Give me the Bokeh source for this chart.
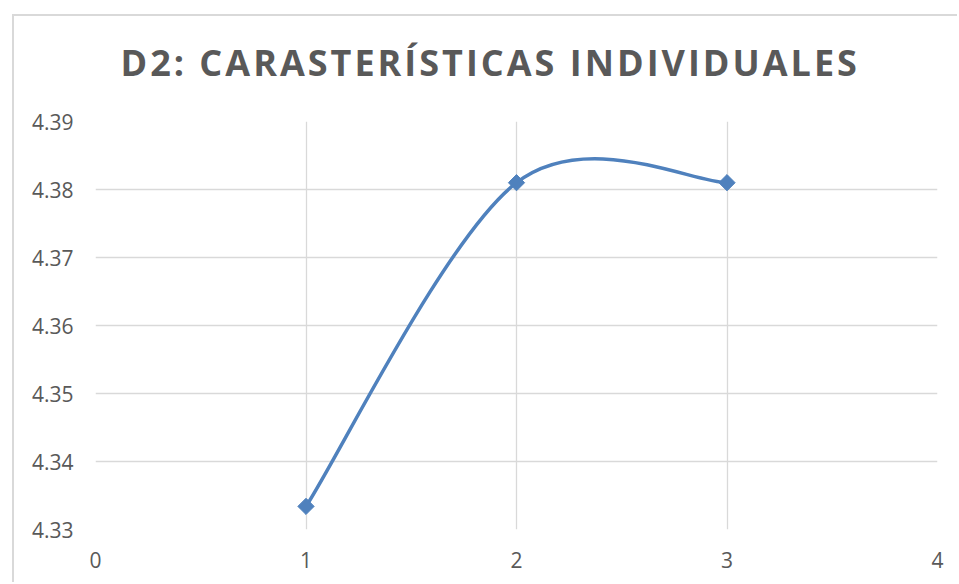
import math
from bokeh.plotting import figure
from bokeh.layouts import column
from bokeh.models import FixedTicker, ColumnDataSource
from bokeh.embed import file_html
from bokeh.resources import INLINE

# ---- data ----
x_vals = [1, 2, 3]
y_vals = [4.3334, 4.381, 4.381]
x_ticks = [0, 1, 2, 3, 4]
y_ticks = [4.33, 4.34, 4.35, 4.36, 4.37, 4.38, 4.39]
y_tick_labels = ["4.33", "4.34", "4.35", "4.36", "4.37", "4.38", "4.39"]
title_text = "D2: CARASTERÍSTICAS INDIVIDUALES"

LINE = "#4f81bd"
GRID = "#d9d9d9"
TEXT = "#595959"

# smoothed (Excel-style) bezier segments derived from the data points
pts = list(zip(x_vals, y_vals))
n = len(pts)
seg = dict(x0=[], y0=[], x1=[], y1=[], cx0=[], cy0=[], cx1=[], cy1=[])
for i in range(n - 1):
    p0 = pts[max(i - 1, 0)]
    p1 = pts[i]
    p2 = pts[i + 1]
    p3 = pts[min(i + 2, n - 1)]
    seg["x0"].append(p1[0]); seg["y0"].append(p1[1])
    seg["x1"].append(p2[0]); seg["y1"].append(p2[1])
    seg["cx0"].append(p1[0] + (p2[0] - p0[0]) / 6)
    seg["cy0"].append(p1[1] + (p2[1] - p0[1]) / 6)
    seg["cx1"].append(p2[0] - (p3[0] - p1[0]) / 6)
    seg["cy1"].append(p2[1] - (p3[1] - p1[1]) / 6)

# ---- title strip (own figure so letter-spacing only affects the title) ----
tfig = figure(width=943, height=73, x_range=(0, 1), y_range=(0, 1),
              output_backend="svg", toolbar_location=None,
              x_axis_type=None, y_axis_type=None,
              min_border_left=81, min_border_right=20, min_border_top=0, min_border_bottom=0)
tfig.styles = {"letter-spacing": "3px", "position": "relative", "top": "19px"}
tfig.outline_line_color = None
tfig.background_fill_alpha = 0
tfig.border_fill_alpha = 0
tfig.grid.visible = False
tfig.title.text = title_text
tfig.title.text_font = "Open Sans"
tfig.title.text_font_size = "36px"
tfig.title.text_font_style = "bold"
tfig.title.text_color = TEXT
tfig.title.align = "left"
tfig.title.offset = 25
tfig.title.standoff = 0

# ---- main chart ----
p = figure(width=943, height=493, x_range=(0, 4), y_range=(4.33, 4.39),
           output_backend="svg", toolbar_location=None,
           min_border_left=81, min_border_top=32, min_border_right=20, min_border_bottom=53)

p.outline_line_color = None
p.background_fill_color = "white"
p.border_fill_color = "white"

p.xaxis.ticker = FixedTicker(ticks=x_ticks)
p.yaxis.ticker = FixedTicker(ticks=y_ticks)
p.yaxis.major_label_overrides = {t: s for t, s in zip(y_ticks, y_tick_labels)}

for ax in (p.xaxis, p.yaxis):
    ax.axis_line_color = None
    ax.major_tick_line_color = None
    ax.minor_tick_line_color = None
    ax.major_tick_out = 0
    ax.major_tick_in = 0
    ax.minor_tick_out = 0
    ax.major_label_text_font = "Open Sans"
    ax.major_label_text_font_size = "21px"
    ax.major_label_text_color = TEXT
p.yaxis.major_label_standoff = 22
p.xaxis.major_label_standoff = 22

p.xgrid.grid_line_color = GRID
p.ygrid.grid_line_color = GRID
p.xgrid.grid_line_width = 1.3
p.ygrid.grid_line_width = 1.3

src = ColumnDataSource(seg)
p.bezier(x0="x0", y0="y0", x1="x1", y1="y1", cx0="cx0", cy0="cy0", cx1="cx1", cy1="cy1",
         source=src, line_color=LINE, line_width=3.5)
p.scatter(x_vals, y_vals, marker="square", angle=math.pi / 4, size=11.5,
          fill_color=LINE, line_color=LINE)

layout = column(tfig, p, spacing=0)
layout.styles = {"margin-left": "12px", "margin-top": "14px",
                 "border-left": "2px solid #d9d9d9", "border-top": "2px solid #d9d9d9"}

open("out.html", "w").write(file_html(layout, INLINE))
